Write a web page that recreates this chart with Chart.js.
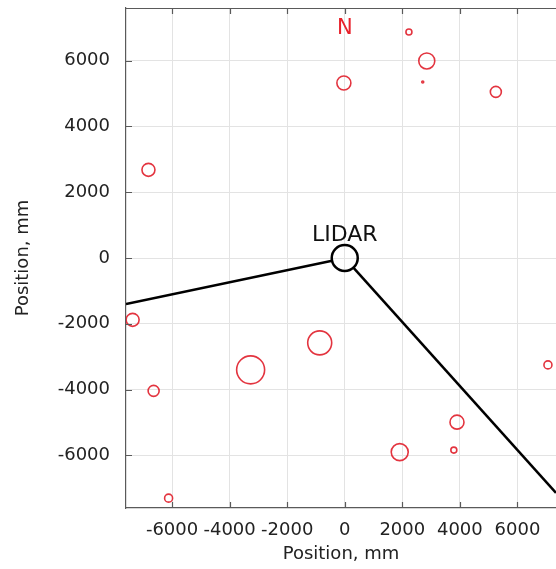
<!DOCTYPE html>
<html>
<head>
<meta charset="utf-8">
<script src="https://cdn.jsdelivr.net/npm/chart.js@4/dist/chart.umd.min.js"></script>
<style>
  body { margin: 0; background: #fff; }
  #wrap { width: 556px; height: 569px; position: relative; }
</style>
</head>
<body>
<div id="wrap"><canvas id="mapChart"></canvas></div>
<script>
// tick labels
const xTicks = [-6000, -4000, -2000, 0, 2000, 4000, 6000];
const yTicks = [-6000, -4000, -2000, 0, 2000, 4000, 6000];

// detected objects (mm) and their marker size
const obsX = [2230, 2850, 2710, -30, 5250, -6820, -7370, -6640, -3270, -6120, -870, 7060, 3900, 1910, 3790];
const obsY = [6870, 5990, 5350, 5320, 5050, 2680, -1880, -4040, -3400, -7300, -2580, -3250, -4990, -5900, -5840];
const obsR = [3, 8, 1, 7, 5.5, 6.5, 6.5, 5.5, 14, 4, 12, 4, 7, 8.5, 3];

// field of view edges (from sensor rim outwards)
const leftBeamX = [-7600, -440];
const leftBeamY = [-1400, -82];
const rightBeamX = [300, 7340];
const rightBeamY = [-292, -7140];

// sensor
const lidarX = [0];
const lidarY = [0];

// text labels
const notes = [
    { text: 'N', x: 0, y: 6800, color: '#e8212b', size: 21 },
    { text: 'LIDAR', x: 0, y: 520, color: '#111', size: 22 }
];

const FONT = 'DejaVu Sans';

var frame = {
    id: 'frame',
    afterDatasetsDraw: function(chart) {
        var ctx = chart.ctx;
        var a = chart.chartArea;
        var xs = chart.scales.x, ys = chart.scales.y;
        ctx.save();
        ctx.strokeStyle = '#5a5a5a';
        ctx.lineWidth = 1.2;
        ctx.beginPath();
        ctx.moveTo(a.left, a.top + 0.5);
        ctx.lineTo(a.right, a.top + 0.5);
        xTicks.forEach(function(v) {
            var px = Math.round(xs.getPixelForValue(v)) + 0.5;
            ctx.moveTo(px, a.top); ctx.lineTo(px, a.top + 6);
            ctx.moveTo(px, a.bottom); ctx.lineTo(px, a.bottom - 6);
        });
        yTicks.forEach(function(v) {
            var py = Math.round(ys.getPixelForValue(v)) + 0.5;
            ctx.moveTo(a.left, py); ctx.lineTo(a.left + 6, py);
        });
        ctx.stroke();

        ctx.textAlign = 'center';
        ctx.textBaseline = 'alphabetic';
        notes.forEach(function(n) {
            ctx.fillStyle = n.color;
            ctx.font = n.size + 'px "' + FONT + '"';
            ctx.fillText(n.text, xs.getPixelForValue(n.x), ys.getPixelForValue(n.y));
        });
        ctx.restore();
    }
};

function plain(v) { return String(v); }

function beam(xs, ys, label) {
    return {
        type: 'line',
        label: label,
        data: xs.map(function(x, i) { return { x: x, y: ys[i] }; }),
        borderColor: '#000',
        borderWidth: 2.5,
        pointRadius: 0,
        fill: false,
        tension: 0,
        order: 1
    };
}

var ctx = document.getElementById('mapChart').getContext('2d');
var mapChart = new Chart(ctx, {
    type: 'bubble',
    data: {
        datasets: [{
            label: 'LIDAR',
            data: lidarX.map(function(x, i) { return { x: x, y: lidarY[i], r: 13 }; }),
            borderColor: '#000',
            backgroundColor: 'rgba(0,0,0,0)',
            borderWidth: 2.5,
            order: 0
        },
        beam(leftBeamX, leftBeamY, 'FOV left'),
        beam(rightBeamX, rightBeamY, 'FOV right'),
        {
            label: 'Objects',
            data: obsX.map(function(x, i) { return { x: x, y: obsY[i], r: obsR[i] }; }),
            borderColor: '#e3343f',
            backgroundColor: 'rgba(0,0,0,0)',
            borderWidth: 1.6,
            order: 2
        }]
    },
    options: {
        responsive: true,
        maintainAspectRatio: false,
        animation: false,
        layout: { autoPadding: false, padding: { top: 8, right: 0, left: 0, bottom: 0 } },
        plugins: { legend: { display: false }, tooltip: { enabled: false } },
        scales: {
            x: {
                type: 'linear',
                min: -7600,
                max: 7340,
                afterBuildTicks: function(s) { s.ticks = xTicks.map(function(v) { return { value: v }; }); },
                afterFit: function(s) { s.height = 61; s.paddingLeft = 0; s.paddingRight = 0; },
                grid: { color: '#e3e3e3', drawTicks: false },
                border: { color: '#5a5a5a', width: 1.2 },
                ticks: { autoSkip: false, maxRotation: 0, padding: 12, color: '#222', callback: plain, font: { family: FONT, size: 18 } },
                title: { display: true, text: 'Position, mm', color: '#222', font: { family: FONT, size: 18 }, padding: { top: 0, bottom: 4 } }
            },
            y: {
                type: 'linear',
                min: -7600,
                max: 7600,
                afterBuildTicks: function(s) { s.ticks = yTicks.map(function(v) { return { value: v }; }); },
                afterFit: function(s) { s.width = 126; s.paddingTop = 0; s.paddingBottom = 0; },
                grid: { color: '#e3e3e3', drawTicks: false },
                border: { color: '#5a5a5a', width: 1.2 },
                ticks: { autoSkip: false, padding: 16, color: '#222', callback: plain, font: { family: FONT, size: 18 } },
                title: { display: true, text: 'Position, mm', color: '#222', font: { family: FONT, size: 18 }, padding: { top: 13, bottom: 0 } }
            }
        }
    },
    plugins: [frame]
});
</script>
</body>
</html>
